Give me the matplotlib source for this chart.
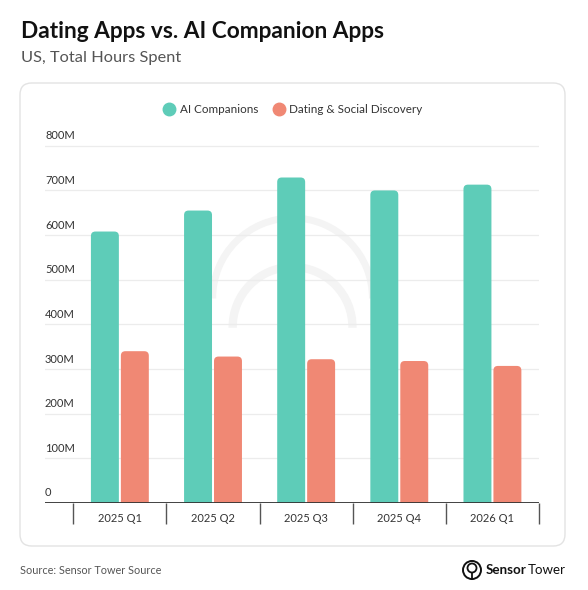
import numpy as np
import matplotlib
matplotlib.use("Agg")
import matplotlib.pyplot as plt
from matplotlib.patches import FancyBboxPatch, Circle, Arc
import matplotlib.transforms as mtransforms

plt.rcParams['font.family'] = ['Lato', 'DejaVu Sans']

# data (hours, millions)
quarters = ["2025 Q1", "2025 Q2", "2025 Q3", "2025 Q4", "2026 Q1"]
ai_companions = [608, 655, 729, 700, 713]
dating_social = [340, 328, 322, 318, 307]
y_ticks = [0, 100, 200, 300, 400, 500, 600, 700, 800]
y_labels = ["0", "100M", "200M", "300M", "400M", "500M", "600M", "700M", "800M"]

teal = "#5ECCB8"
salmon = "#F08874"

W, H = 588, 590
fig = plt.figure(figsize=(W / 100, H / 100), dpi=100)
fig.patch.set_facecolor("white")

def fx(px):
    return px / W

def fy(py):
    return 1 - py / H

# card
card = FancyBboxPatch((fx(20), fy(546)), fx(565) - fx(20), fy(83) - fy(546),
                      boxstyle="round,pad=0,rounding_size=0.02",
                      transform=fig.transFigure, facecolor="white",
                      edgecolor="#e3e3e3", lw=1.0, zorder=-5)
fig.patches.append(card)

# titles
fig.text(fx(21), fy(32), "Dating Apps vs. AI Companion Apps", fontsize=16.3,
         fontweight="bold", color="#111111", va="center", ha="left")
fig.text(fx(21), fy(58), "US, Total Hours Spent", fontsize=11.8,
         color="#555555", va="center", ha="left")

ymax = 820
ax_bottom, ax_left, ax_right = 503, 45, 539
px_per_unit = 44.65 / 100
ax_top = ax_bottom - ymax * px_per_unit
ax = fig.add_axes([fx(ax_left), fy(ax_bottom), fx(ax_right) - fx(ax_left),
                   fy(ax_top) - fy(ax_bottom)])
ax.set_facecolor("none")

cat_w = 93.3
first_c = 120.0
x0 = (ax_left - first_c) / cat_w
x1 = (ax_right - first_c) / cat_w
ax.set_xlim(x0, x1)
ax.set_ylim(0, ymax)

# faint watermark
cx = (293 - first_c) / cat_w
ax.add_patch(Arc((cx, (503 - 298) / px_per_unit), 160 / cat_w, 160 / px_per_unit,
                 theta1=-50, theta2=230, color="#f4f4f4", lw=5, zorder=0))
ax.add_patch(Arc((cx, (503 - 327) / px_per_unit), 120 / cat_w, 120 / px_per_unit,
                 theta1=-70, theta2=250, color="#f4f4f4", lw=6, zorder=0))

for y in y_ticks:
    ax.axhline(y, color="#ececec", lw=0.9, zorder=1)

x = np.arange(len(quarters))
bw = 28 / cat_w
gap = 2 / cat_w
b1 = ax.bar(x - bw / 2 - gap / 2, ai_companions, bw, color=teal, zorder=2)
b2 = ax.bar(x + bw / 2 + gap / 2, dating_social, bw, color=salmon, zorder=2)

# rounded tops
r_px = 4.5
aspect = (1 / px_per_unit) / (1 / cat_w)
for bars in (b1, b2):
    for p in bars:
        bx, by = p.get_x(), p.get_y()
        w, h = p.get_width(), p.get_height()
        rp = FancyBboxPatch((bx, by - 20), w, h + 20,
                            boxstyle="round,pad=0,rounding_size=%f" % (r_px / cat_w),
                            mutation_aspect=aspect, facecolor=p.get_facecolor(),
                            edgecolor="none", zorder=2)
        p.set_visible(False)
        ax.add_patch(rp)

ax.axhline(0, color="#333333", lw=1.3, zorder=3)

for s in ax.spines.values():
    s.set_visible(False)

ax.set_yticks([])
ax.set_xticks(x)
ax.set_xticklabels(quarters, fontsize=8, color="#333333")
ax.set_xticks(np.arange(-0.5, len(quarters)), minor=True)
ax.tick_params(axis="x", which="major", length=0, pad=7)
ax.tick_params(axis="x", which="minor", length=15, width=1.0, color="#555555",
               direction="out")

ytf = mtransforms.blended_transform_factory(ax.transAxes, ax.transData)
for y, lab in zip(y_ticks, y_labels):
    ax.text(0.0, y + 4.5 / px_per_unit, lab, transform=ytf, fontsize=8,
            color="#333333", ha="left", va="bottom")

# legend
handles = [plt.Line2D([], [], marker="o", ls="", color=teal, markersize=9),
           plt.Line2D([], [], marker="o", ls="", color=salmon, markersize=9)]
fig.legend(handles, ["AI Companions", "Dating & Social Discovery"], loc="center",
           bbox_to_anchor=(fx(293), fy(110)), ncol=2, frameon=False, fontsize=8.4,
           handletextpad=0.4, columnspacing=1.3, handlelength=1.0,
           labelcolor="#333333")

# footer
fig.text(fx(20), fy(571), "Source: Sensor Tower Source", fontsize=7.8,
         color="#555555", va="center", ha="left")

icx, icy = 472, 570
fig.patches.append(Circle((fx(icx), fy(icy)), 9.0 / W, transform=fig.transFigure,
                          fill=False, edgecolor="#111111", lw=1.4))
ring = Circle((fx(icx), fy(icy - 2)), 4.5 / W, transform=fig.transFigure,
              fill=False, edgecolor="#111111", lw=1.3)
fig.patches.append(ring)
fig.lines.append(plt.Line2D([fx(icx), fx(icx)], [fy(icy + 2.5), fy(icy + 9)],
                            transform=fig.transFigure, color="#111111", lw=1.3))
t1 = fig.text(fx(486), fy(570), "Sensor", fontsize=9.6, fontweight="bold",
              color="#111111", va="center", ha="left")
fig.canvas.draw()
bb = t1.get_window_extent()
fig.text((bb.x1 + 0.5) / W, fy(570), "Tower", fontsize=9.6, color="#111111",
         va="center", ha="left")

fig.savefig("out.png", dpi=100)
